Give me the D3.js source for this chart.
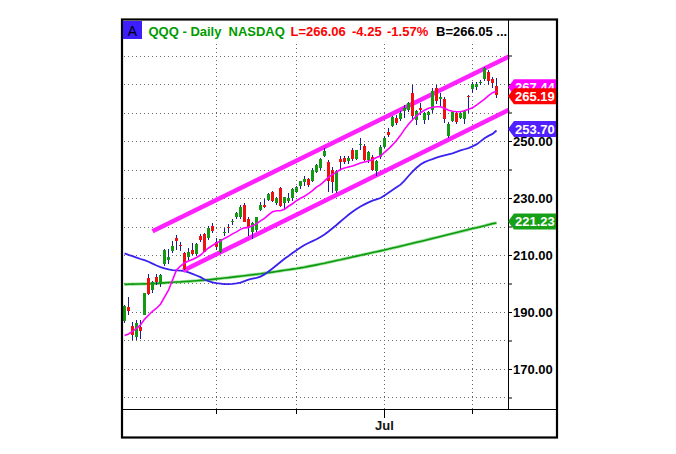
<!DOCTYPE html>
<html><head><meta charset="utf-8">
<script src="https://cdn.jsdelivr.net/npm/d3@7/dist/d3.min.js"></script>
<style>html,body{margin:0;padding:0;background:#fff;}svg{display:block;}</style>
</head><body>
<svg id="c" width="676" height="454"></svg>
<script>
// ---------------- data ----------------
const dates = ["2020-03-30","2020-03-31","2020-04-01","2020-04-02","2020-04-03","2020-04-06","2020-04-07","2020-04-08","2020-04-09","2020-04-13","2020-04-14","2020-04-15","2020-04-16","2020-04-17","2020-04-20","2020-04-21","2020-04-22","2020-04-23","2020-04-24","2020-04-27","2020-04-28","2020-04-29","2020-04-30","2020-05-01","2020-05-04","2020-05-05","2020-05-06","2020-05-07","2020-05-08","2020-05-11","2020-05-12","2020-05-13","2020-05-14","2020-05-15","2020-05-18","2020-05-19","2020-05-20","2020-05-21","2020-05-22","2020-05-26","2020-05-27","2020-05-28","2020-05-29","2020-06-01","2020-06-02","2020-06-03","2020-06-04","2020-06-05","2020-06-08","2020-06-09","2020-06-10","2020-06-11","2020-06-12","2020-06-15","2020-06-16","2020-06-17","2020-06-18","2020-06-19","2020-06-22","2020-06-23","2020-06-24","2020-06-25","2020-06-26","2020-06-29","2020-06-30","2020-07-01","2020-07-02","2020-07-06","2020-07-07","2020-07-08","2020-07-09","2020-07-10","2020-07-13","2020-07-14","2020-07-15","2020-07-16","2020-07-17","2020-07-20","2020-07-21","2020-07-22","2020-07-23","2020-07-24","2020-07-27","2020-07-28","2020-07-29","2020-07-30","2020-07-31","2020-08-03","2020-08-04","2020-08-05","2020-08-06","2020-08-07","2020-08-10","2020-08-11"];

const opens = [186.7,191.6,185.0,181.4,184.7,189.1,202.1,197.7,202.3,199.7,
206.7,208.2,211.4,216.1,213.4,210.8,209.2,211.8,210.3,216.5,
217.3,215.9,220.2,214.7,211.2,217.6,219.7,221.6,223.5,223.3,
227.6,222.6,217.9,218.8,225.9,227.6,229.2,232.0,228.3,233.4,
228.4,228.8,230.0,232.0,234.1,235.5,236.5,235.9,239.0,240.6,
244.7,242.6,240.0,232.3,243.8,244.2,242.9,246.8,243.8,248.5,
248.2,243.5,244.5,239.4,244.4,248.0,253.2,255.3,258.2,257.7,
260.5,261.0,267.0,257.3,261.7,257.5,259.1,260.8,268.7,264.8,
264.7,251.7,257.0,260.0,258.2,257.6,265.8,268.2,268.8,270.4,
271.8,274.1,271.7,269.4];

const highs = [192.6,195.3,186.5,187.3,187.3,196.8,203.5,201.0,203.2,203.3,
212.0,212.1,214.9,217.1,214.7,210.9,212.4,214.1,214.2,217.2,
217.6,220.2,221.2,215.9,215.7,219.5,220.8,222.8,225.2,227.4,
228.3,223.4,221.6,223.5,228.6,229.5,231.8,232.6,230.3,233.8,
230.5,231.6,233.4,234.3,236.1,237.6,237.0,240.5,241.9,244.0,
247.6,243.2,240.8,239.8,244.9,244.8,244.6,247.6,247.0,251.2,
248.8,246.5,245.0,243.2,248.5,251.6,254.7,258.8,259.0,260.4,
262.5,263.6,269.5,261.0,263.4,260.3,260.5,268.5,269.6,266.8,
265.4,256.5,260.6,260.4,260.6,261.0,266.2,270.8,270.7,271.5,
276.0,275.0,272.3,272.0];

const lows = [186.3,188.8,180.0,180.3,180.5,188.8,195.9,196.5,199.4,198.9,
206.2,206.7,210.6,211.8,211.4,204.7,208.4,210.0,209.7,214.6,
211.0,215.3,217.8,211.8,210.6,216.5,217.6,220.5,222.8,222.8,
221.5,216.5,215.5,218.2,225.3,226.4,228.9,228.5,227.6,227.0,
225.7,228.2,229.0,231.6,233.2,234.1,234.0,235.5,238.6,240.0,
244.3,232.0,231.8,231.6,240.2,242.0,241.8,242.9,243.2,247.0,
242.9,242.4,239.6,237.8,243.8,247.6,251.3,254.8,255.6,257.0,
258.0,260.3,257.2,255.5,259.0,256.0,257.5,260.0,263.0,262.0,
256.3,251.0,256.6,256.0,257.6,255.8,260.0,267.0,267.8,269.6,
271.0,269.8,268.6,265.2];

const closes = [192.0,190.5,181.8,186.1,183.2,196.5,196.2,200.4,200.4,203.0,
211.8,209.3,213.2,215.0,213.0,205.0,211.2,210.3,213.9,215.3,
211.2,219.4,218.5,212.9,215.5,218.1,219.5,222.0,224.9,227.0,
221.7,220.0,221.2,223.3,227.6,226.7,231.5,229.0,229.9,227.3,
230.3,230.0,233.2,233.9,235.9,236.7,234.7,240.0,241.7,243.8,
246.4,236.0,235.5,239.4,242.8,242.6,244.1,243.8,246.8,249.0,
243.5,246.1,240.0,242.9,248.0,251.0,252.1,258.4,256.4,260.0,
261.5,263.3,258.7,260.6,260.9,259.8,260.2,267.5,264.2,265.3,
257.6,255.9,260.3,256.5,260.0,260.6,265.5,270.0,270.0,270.8,
275.6,271.1,270.3,266.06];

// short moving average (magenta), 50-day (blue), 200-day (green)
const smaShort = [181.78,182.31,183.19,184.25,185.49,187.43,188.84,190.25,191.31,192.72,
195.19,197.65,201.18,204.71,206.12,207.18,207.88,208.41,209.12,210.0,
211.23,212.47,213.35,214.23,214.94,215.82,216.53,217.41,218.11,219.0,
219.52,219.7,220.23,220.93,221.99,222.87,224.11,225.17,225.52,225.52,
226.05,227.11,227.99,229.05,229.93,230.63,231.52,232.57,233.81,234.69,
235.93,237.34,238.22,239.1,239.98,240.51,240.86,241.22,241.75,242.28,
242.63,242.98,243.51,244.22,244.74,245.98,247.21,248.62,250.21,251.98,
254.09,255.86,257.44,258.85,259.91,260.79,261.5,261.85,262.03,262.03,
261.5,260.79,260.44,260.26,260.26,260.62,261.15,261.68,262.56,263.62,
264.67,265.91,266.97,267.5];

const sma50 = [210.60,210.07,209.58,209.08,208.59,208.17,207.64,206.97,206.30,205.77,
205.34,204.96,204.71,204.60,204.53,204.36,203.90,203.37,202.80,202.24,
201.39,200.83,200.41,200.12,199.95,199.77,199.77,199.84,200.05,200.30,
200.83,201.32,201.68,201.96,202.42,203.19,204.18,205.24,206.40,207.53,
208.66,209.65,210.71,211.66,212.65,213.53,214.23,214.87,215.50,216.35,
217.20,218.25,219.38,220.51,221.75,222.95,224.11,225.17,226.12,227.04,
227.78,228.48,229.05,229.54,230.00,230.92,231.87,232.79,233.74,234.69,
236.10,237.72,239.28,240.62,241.75,242.59,243.16,243.62,244.14,244.57,
244.99,245.34,245.70,246.16,246.68,247.11,247.53,248.10,248.80,249.86,
250.99,251.80,252.50,253.70];

const sma200 = [199.70,199.74,199.77,199.81,199.84,199.88,199.91,199.98,200.05,200.12,
200.23,200.34,200.44,200.51,200.58,200.69,200.76,200.86,200.97,201.08,
201.18,201.32,201.46,201.61,201.78,201.92,202.06,202.24,202.42,202.56,
202.73,202.91,203.09,203.23,203.40,203.62,203.83,204.00,204.22,204.43,
204.64,204.85,205.03,205.24,205.49,205.73,206.01,206.26,206.54,206.83,
207.11,207.43,207.74,208.06,208.34,208.66,208.98,209.29,209.61,209.93,
210.21,210.53,210.85,211.16,211.45,211.76,212.12,212.43,212.75,213.10,
213.42,213.77,214.09,214.44,214.76,215.11,215.47,215.82,216.14,216.49,
216.84,217.20,217.55,217.87,218.22,218.57,218.92,219.28,219.59,219.91,
220.26,220.65,221.01,221.23];

// trend channel (position in trading-day index, price)
const channelUpperIdx = [7.125, 96.25];
const channelUpperVal = [218.32, 279.68];
const channelLowerIdx = [14.75, 96.25];
const channelLowerVal = [204.49, 260.98];

const gridValues = [160,170,180,190,200,210,220,230,240,250,260,270,280];
const labelValues = [170,190,210,230,250,270];
const monthDates = ["2020-05-01","2020-06-01","2020-07-01","2020-08-03"];
const monthLabels = ["","","Jul",""];

const tagLabels = ["267.44","265.19","253.70","221.23"];
const tagValues = [267.5,265.19,253.70,221.23];
const tagColors = ["#ff00ff","#ff0000","#5020ff","#16a016"];

const titleParts = ["QQQ - Daily","NASDAQ","L=266.06","-4.25","-1.57%","B=266.05 ..."];

// ---------------- drawing ----------------
const FONT = "Arial, 'Liberation Sans', sans-serif";
const svg = d3.select("#c");
const L = 122, R = 508, T = 44, B = 409;
const x = d3.scaleLinear().domain([-0.5, 96]).range([L, R]);
const y = d3.scaleLinear().domain([155.96, 284.04]).range([B, T]);
const idx = d => dates.indexOf(d);

svg.append("rect").attr("width",676).attr("height",454).attr("fill","#fff");

const defs = svg.append("defs");
defs.append("clipPath").attr("id","plot").append("rect")
  .attr("x",L).attr("y",T).attr("width",R-L+2).attr("height",B-T);

// gridlines
const grid = svg.append("g").attr("stroke","#666").attr("stroke-width",1).attr("stroke-dasharray","1,3");
gridValues.forEach(v=>{
  const yy = Math.round(y(v))+0.5;
  grid.append("line").attr("x1",L+2).attr("x2",R-1).attr("y1",yy).attr("y2",yy);
});
monthDates.forEach(d=>{
  const xx = Math.round(x(idx(d)))+0.5;
  grid.append("line").attr("x1",xx).attr("x2",xx).attr("y1",T).attr("y2",B);
});

const plot = svg.append("g").attr("clip-path","url(#plot)");

// moving averages
const line = d3.line().x((d,i)=>x(i)+0.5).y(d=>y(d));
plot.append("path").datum(sma200).attr("d",line).attr("fill","none")
  .attr("stroke","#5fcf5f").attr("stroke-width",3.2).attr("stroke-opacity",0.6);
plot.append("path").datum(sma200).attr("d",line).attr("fill","none")
  .attr("stroke","#0e9a0e").attr("stroke-width",1.6);
plot.append("path").datum(sma50).attr("d",line).attr("fill","none")
  .attr("stroke","#3a22ee").attr("stroke-width",1.8);

// channel
const chan = (ix, vs) => plot.append("line")
  .attr("x1",x(ix[0])).attr("y1",y(vs[0])).attr("x2",x(ix[1])).attr("y2",y(vs[1]))
  .attr("stroke","#ff22ff").attr("stroke-width",4.5).attr("stroke-linecap","butt");
chan(channelUpperIdx, channelUpperVal);
chan(channelLowerIdx, channelLowerVal);

// candles
const candles = plot.append("g").attr("shape-rendering","crispEdges");
dates.forEach((d,i)=>{
  const cx = Math.round(x(i));
  const up = closes[i] >= opens[i];
  candles.append("line").attr("x1",cx+0.5).attr("x2",cx+0.5)
    .attr("y1",y(highs[i])).attr("y2",y(lows[i])).attr("stroke","#1c1c8c").attr("stroke-width",1);
  const top = y(Math.max(opens[i],closes[i])), bot = y(Math.min(opens[i],closes[i]));
  candles.append("rect").attr("x",cx-1).attr("width",3)
    .attr("y",top).attr("height",Math.max(1,bot-top))
    .attr("fill", up ? "#129a12" : "#ee1111");
});

// short MA on top
plot.append("path").datum(smaShort).attr("d",line).attr("fill","none")
  .attr("stroke","#ff00ff").attr("stroke-width",1.6);

// right axis
const ax = svg.append("g").attr("transform",`translate(${R},0)`)
  .call(d3.axisRight(y).tickValues(gridValues).tickSize(4).tickPadding(1)
    .tickFormat(v => labelValues.includes(v) ? v.toFixed(2) : ""));
ax.select(".domain").remove();
ax.selectAll(".tick line").attr("stroke","#000");
ax.selectAll(".tick text").attr("font-family",FONT).attr("font-size",13)
  .attr("font-weight","bold").attr("fill","#000");

// bottom axis ticks
const bx = svg.append("g").attr("transform",`translate(0,${B})`)
  .call(d3.axisBottom(x).tickValues(monthDates.map(idx)).tickSize(5).tickPadding(8)
    .tickFormat((v,i)=>monthLabels[i]));
bx.select(".domain").remove();
bx.selectAll(".tick").attr("transform", v => `translate(${Math.round(x(v))+0.5},0)`);
bx.selectAll(".tick line").attr("stroke","#000").attr("y2",(v,i)=>monthLabels[i] ? 9 : 5);
bx.selectAll(".tick text").attr("font-family",FONT).attr("font-size",13)
  .attr("font-weight","bold").attr("fill","#111")
  .attr("y",12).attr("dy","0.71em");

// frame lines
svg.append("line").attr("x1",R+0.5).attr("x2",R+0.5).attr("y1",19).attr("y2",B).attr("stroke","#000");
svg.append("line").attr("x1",L).attr("x2",557).attr("y1",B+0.5).attr("y2",B+0.5).attr("stroke","#000");
svg.append("rect").attr("x",122).attr("y",19.5).attr("width",435).attr("height",418)
  .attr("fill","none").attr("stroke","#000").attr("stroke-width",2.2);

// tags
const tagOffsets = [-4,-1.5,-1.5,-1.5];
tagValues.forEach((v,i)=>{
  const cy = y(v) + tagOffsets[i];
  const g = svg.append("g");
  g.append("path").attr("d",`M${R},${cy} L${R+6},${cy-8} L556,${cy-8} L556,${cy+8} L${R+6},${cy+8} Z`)
    .attr("fill",tagColors[i]);
  g.append("text").attr("x",515).attr("y",cy+4.7).text(tagLabels[i])
    .attr("font-family",FONT).attr("font-size",13).attr("font-weight","bold").attr("fill","#fff");
});

// title
svg.append("rect").attr("x",123).attr("y",21).attr("width",19).attr("height",18).attr("fill","#3c1eff");
svg.append("text").attr("x",132.5).attr("y",36).attr("text-anchor","middle").text("A")
  .attr("font-family",FONT).attr("font-size",14).attr("fill","#000");
const tx = [148.5,228.5,290.5,352,387,436];
const tc = ["#009a00","#009a00","#ff0000","#ff0000","#ff0000","#000"];
titleParts.forEach((t,i)=>{
  svg.append("text").attr("x",tx[i]).attr("y",36).text(t)
    .attr("font-family",FONT).attr("font-size",13).attr("font-weight","bold").attr("fill",tc[i]);
});
</script>
</body></html>
